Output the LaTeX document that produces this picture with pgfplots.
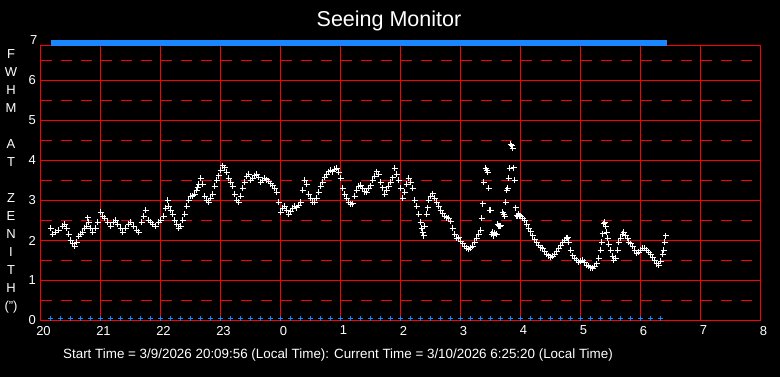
\documentclass[border=0pt]{standalone}
\usepackage{pgfplots}
\pgfplotsset{compat=1.18}
\usepackage{fontspec}
\setmainfont{Liberation Sans}
\definecolor{gridred}{RGB}{255,0,0}
\definecolor{markblue}{RGB}{25,135,255}
\begin{document}
\begin{tikzpicture}[x=1pt,y=1pt]
\useasboundingbox (0,0) rectangle (780,377);
\fill[black] (0,0) rectangle (780,377);
\begin{axis}[
  at={(40.5pt,56.5pt)}, anchor=south west,
  scale only axis, width=720pt, height=275pt,
  xmin=0, xmax=720, ymin=0, ymax=6.875,
  axis line style={gridred, line width=1pt},
  xtick={0,60,...,720},
  xticklabels={20,21,22,23,0,1,2,3,4,5,6,7,8},
  ytick={0,1,...,6},
  xmajorgrids=true,
  major grid style={gridred, line width=1pt},
  major tick length=0pt, minor tick length=0pt,
  tick label style={white, font=\fontsize{13}{15}\selectfont},
  xticklabel style={xshift=3pt, yshift=-2pt},
  yticklabel style={xshift=-1pt},
  /pgf/number format/assume math mode=true,
  clip=false,
]
\pgfplotsinvokeforeach{1,2,3,4,5,6}{\draw[color=gridred, line width=1pt, solid] (axis cs:0,#1) -- (axis cs:720,#1);}
\pgfplotsinvokeforeach{0.5,1.5,2.5,3.5,4.5,5.5,6.5}{\draw[color=gridred, line width=1pt, dash pattern=on 11pt off 9pt] (axis cs:0,#1) -- (axis cs:720,#1);}
% top marker row
\addplot[only marks, mark=square*, color=markblue, mark size=2.4pt, mark options={xscale=1.85, draw=none, fill=markblue}] coordinates {
(15,6.95) (25,6.95) (35,6.95) (45,6.95) (55,6.95) (65,6.95) (75,6.95) (85,6.95) (95,6.95) (105,6.95)
(115,6.95) (125,6.95) (135,6.95) (145,6.95) (155,6.95) (165,6.95) (175,6.95) (185,6.95) (195,6.95) (205,6.95)
(215,6.95) (225,6.95) (235,6.95) (245,6.95) (255,6.95) (265,6.95) (275,6.95) (285,6.95) (295,6.95) (305,6.95)
(315,6.95) (325,6.95) (335,6.95) (345,6.95) (355,6.95) (365,6.95) (375,6.95) (385,6.95) (395,6.95) (405,6.95)
(415,6.95) (425,6.95) (435,6.95) (445,6.95) (455,6.95) (465,6.95) (475,6.95) (485,6.95) (495,6.95) (505,6.95)
(515,6.95) (525,6.95) (535,6.95) (545,6.95) (555,6.95) (565,6.95) (575,6.95) (585,6.95) (595,6.95) (605,6.95)
(615,6.95) (621,6.95)
};
% bottom marker row
\addplot[only marks, mark=+, color=markblue, mark size=2.5pt, mark options={line width=1pt}] coordinates {
(10,0.05) (20,0.05) (30,0.05) (40,0.05) (50,0.05) (60,0.05) (70,0.05) (80,0.05) (90,0.05) (100,0.05)
(110,0.05) (120,0.05) (130,0.05) (140,0.05) (150,0.05) (160,0.05) (170,0.05) (180,0.05) (190,0.05) (200,0.05)
(210,0.05) (220,0.05) (230,0.05) (240,0.05) (250,0.05) (260,0.05) (270,0.05) (280,0.05) (290,0.05) (300,0.05)
(310,0.05) (320,0.05) (330,0.05) (340,0.05) (350,0.05) (360,0.05) (370,0.05) (380,0.05) (390,0.05) (400,0.05)
(410,0.05) (420,0.05) (430,0.05) (440,0.05) (450,0.05) (460,0.05) (470,0.05) (480,0.05) (490,0.05) (500,0.05)
(510,0.05) (520,0.05) (530,0.05) (540,0.05) (550,0.05) (560,0.05) (570,0.05) (580,0.05) (590,0.05) (600,0.05)
(610,0.05) (620,0.05)
};
% seeing measurements
\addplot[only marks, mark=+, color=white, mark size=3pt, mark options={line width=1pt}] coordinates {
(10,2.3) (12,2.15) (15,2.2) (18,2.25) (22,2.35) (24,2.4) (26,2.3) (28,2.15) (30,2.0) (32,1.92) (34,1.85) (36,1.95) (38,2.1) (40,2.15) (42,2.2) (44,2.3) (46,2.35) (47,2.57) (48,2.45) (50,2.3) (52,2.2) (55,2.3) (57,2.45) (60,2.7) (62,2.6) (64,2.55) (67,2.45) (70,2.35) (73,2.45) (75,2.5) (77,2.4) (80,2.3) (82,2.2) (85,2.3) (88,2.4) (90,2.45) (93,2.35) (96,2.25) (98,2.2) (101,2.45) (103,2.6) (105,2.75) (108,2.5) (110,2.45) (112,2.4) (115,2.35)
(118,2.45) (120,2.5) (123,2.6) (125,2.8) (127,3.0) (128,2.85) (130,2.75) (132,2.65) (134,2.5) (136,2.4) (138,2.3) (140,2.35) (142,2.5) (144,2.65) (146,2.85) (148,3.0) (150,3.1) (152,3.12) (154,3.15) (156,3.25) (157,3.32) (158,3.4) (160,3.55) (162,3.4) (164,3.1) (166,3.0) (168,2.95) (170,3.05) (172,3.15) (174,3.35) (176,3.5) (178,3.62) (180,3.75) (182,3.87) (184,3.82) (186,3.7) (188,3.55) (190,3.45) (192,3.35) (194,3.15) (196,3.0) (198,2.95) (200,3.1) (202,3.3) (204,3.45) (206,3.6) (208,3.65) (210,3.5) (212,3.55) (214,3.62) (216,3.65) (218,3.58)
(220,3.45) (222,3.5) (224,3.55) (226,3.52) (228,3.48) (230,3.42) (232,3.37) (234,3.3) (236,3.2) (238,2.95) (240,2.7) (242,2.8) (244,2.85) (246,2.75) (248,2.65) (250,2.72) (252,2.8) (254,2.85) (256,2.82) (258,2.88) (260,2.95) (262,3.25) (264,3.5) (266,3.4) (268,3.15) (270,3.05) (272,2.95) (274,2.95) (276,3.05) (278,3.2) (280,3.35) (282,3.45) (284,3.58) (286,3.65) (288,3.72) (290,3.75) (292,3.72) (294,3.78) (296,3.8) (298,3.7) (300,3.55) (302,3.3) (304,3.15) (306,3.05) (308,2.95) (310,2.9) (312,2.92) (314,3.1) (316,3.25) (318,3.35) (320,3.38)
(322,3.3) (324,3.22) (326,3.2) (328,3.3) (330,3.37) (332,3.5) (334,3.6) (336,3.72) (338,3.65) (340,3.45) (342,3.32) (344,3.15) (346,3.25) (348,3.35) (350,3.45) (352,3.57) (354,3.8) (356,3.65) (358,3.5) (360,3.3) (362,3.05) (364,3.2) (366,3.4) (368,3.55) (370,3.45) (372,3.3) (374,3.0) (376,2.85) (378,2.65) (380,2.45) (381,2.3) (382,2.2) (383,2.12) (384,2.35) (386,2.65) (387,2.82) (388,3.0) (390,3.1) (392,3.17) (394,3.05) (396,2.95) (398,2.85) (400,2.75) (402,2.67) (404,2.6) (406,2.57) (408,2.55) (410,2.48) (412,2.3) (414,2.15) (416,2.05) (418,2.07) (420,1.98) (422,1.92) (424,1.85) (426,1.8) (428,1.78) (430,1.82)
(432,1.85) (434,1.95) (436,2.05) (438,2.15) (440,2.25) (441,2.55) (442,2.92) (443,3.45) (445,3.8) (446,3.75) (447,3.7) (448,3.3) (449,2.75) (450,2.75) (451,2.15) (452,2.2) (453,2.12) (454,2.18) (456,2.15) (457,2.4) (458,2.37) (459,2.35) (460,2.37) (462,2.7) (463,2.65) (464,2.6) (465,2.95) (466,3.25) (467,3.3) (468,3.55) (469,3.8) (470,4.4) (471,4.37) (472,4.3) (473,3.82) (474,3.5) (475,2.82) (476,2.62) (477,2.6) (478,2.65) (479,2.62) (480,2.6)
(482,2.55) (484,2.5) (486,2.4) (488,2.3) (490,2.22) (492,2.12) (494,2.02) (496,1.95) (498,1.88) (500,1.82) (502,1.8) (504,1.72) (506,1.65) (508,1.62) (510,1.58) (512,1.6) (514,1.65) (516,1.72) (518,1.8) (520,1.88) (522,1.95) (524,2.0) (526,2.05) (527,2.07) (528,1.95) (530,1.75) (532,1.62) (534,1.55) (536,1.5) (538,1.45) (540,1.48) (542,1.5) (544,1.45) (546,1.38) (548,1.35) (550,1.32) (552,1.3) (554,1.35) (556,1.42) (558,1.55) (560,1.75) (561,1.95) (562,2.17) (563,2.42) (564,2.45) (565,2.35) (566,2.2) (567,2.05) (568,1.9) (570,1.75) (572,1.6) (573,1.5) (575,1.55) (577,1.75) (578,1.95) (580,2.05) (582,2.15) (583,2.2) (585,2.12) (587,2.05) (588,1.95) (590,1.92) (592,1.85) (594,1.75) (596,1.68) (598,1.7) (600,1.75) (602,1.8) (604,1.8) (606,1.75) (608,1.7) (610,1.65) (612,1.58) (614,1.5) (616,1.42) (618,1.38) (620,1.48) (622,1.65) (623,1.75) (624,1.95) (625,2.12)
};
\node[white, anchor=east, font=\fontsize{13}{15}\selectfont, inner sep=2pt, xshift=-1pt] at (axis cs:0,7) {7};
\end{axis}
\node[white, font=\fontsize{21.5}{24}\selectfont] at (389,356) {Seeing Monitor};
\node[white, align=center, font=\fontsize{13}{18}\selectfont] at (11,195.5) {F\\W\\H\\M\\\mbox{}\\A\\T\\\mbox{}\\Z\\E\\N\\I\\T\\H\\(")};
\node[white, font=\fontsize{13.4}{15}\selectfont] at (338,22) {Start Time = 3/9/2026 20:09:56 (Local Time): Current Time = 3/10/2026 6:25:20 (Local Time)};
\end{tikzpicture}
\end{document}
